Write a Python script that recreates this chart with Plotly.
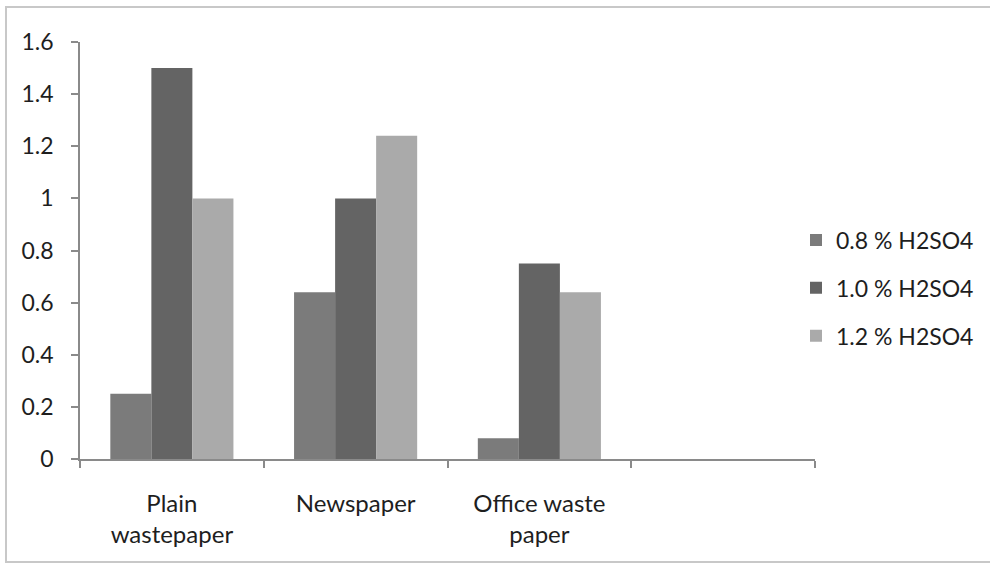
import plotly.graph_objects as go

# ---- data ----
categories = ["Plain<br>wastepaper", "Newspaper", "Office waste<br>paper", " "]
series_names = ["0.8 % H2SO4", "1.0 % H2SO4", "1.2 % H2SO4"]
values_08 = [0.25, 0.64, 0.08, None]
values_10 = [1.50, 1.00, 0.75, None]
values_12 = [1.00, 1.24, 0.64, None]
y_tickvals = [0, 0.2, 0.4, 0.6, 0.8, 1.0, 1.2, 1.4, 1.6]
y_ticktext = ["0", "0.2", "0.4", "0.6", "0.8", "1", "1.2", "1.4", "1.6"]

# ---- style ----
colors = ["#7b7b7b", "#646464", "#aaaaaa"]
W, H = 990, 563
PL, PR, PT, PB = 80, 815, 42, 459  # plot area pixels
FONT = "Lato, 'Open Sans', sans-serif"
TXT = "#1e1e1e"
AX = "#8a8a8a"

fig = go.Figure()
for name, vals, col in zip(series_names, [values_08, values_10, values_12], colors):
    fig.add_trace(go.Bar(
        x=categories, y=vals, name=name, legendgroup=name,
        marker=dict(color=col, line=dict(width=0)),
    ))

def px_x(p):
    return (p - PL) / (PR - PL)

def px_y(p):
    return (PB - p) / (PB - PT)

fig.update_layout(
    width=W, height=H,
    margin=dict(l=PL, r=W - PR, t=PT, b=H - PB, autoexpand=False),
    paper_bgcolor="white", plot_bgcolor="white",
    barmode="group", bargap=0.33, bargroupgap=0,
    font=dict(family=FONT, size=23, color=TXT),
    showlegend=True,
    legend=dict(
        x=px_x(796), xanchor="left",
        y=px_y(288), yanchor="middle",
        traceorder="grouped",
        tracegroupgap=15,
        font=dict(family=FONT, size=23, color=TXT),
        bgcolor="rgba(0,0,0,0)",
    ),
    xaxis=dict(
        type="category", categoryorder="array", categoryarray=categories,
        range=[-0.5, 3.5],
        showline=True, linecolor=AX, linewidth=1.5,
        ticks="outside", ticklen=7, tickcolor=AX, tickwidth=1.5,
        tickson="boundaries",
        showgrid=False, zeroline=False,
        ticklabelstandoff=22,
        tickfont=dict(family=FONT, size=24, color=TXT),
    ),
    yaxis=dict(
        range=[0, 1.6], tickvals=y_tickvals, ticktext=y_ticktext,
        showline=True, linecolor=AX, linewidth=1.5,
        ticks="outside", ticklen=7, tickcolor=AX, tickwidth=1.5,
        showgrid=False, zeroline=False,
        ticklabelstandoff=13,
        tickfont=dict(family=FONT, size=23, color=TXT),
    ),
    shapes=[dict(
        type="rect", xref="paper", yref="paper",
        x0=px_x(6), x1=px_x(1000), y0=px_y(562), y1=px_y(7),
        line=dict(color="#c8c8c8", width=2), fillcolor="rgba(0,0,0,0)",
        layer="below",
    )],
)

fig.write_html("out.html")
